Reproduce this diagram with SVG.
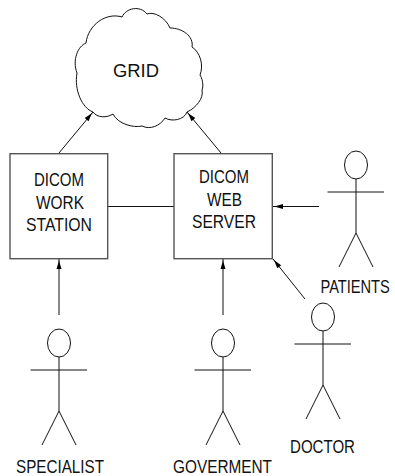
<svg xmlns="http://www.w3.org/2000/svg" width="395" height="476" viewBox="0 0 395 476">
<style>
.l{fill:none;stroke:#111;stroke-width:1}
.b{fill:#fff;stroke:#555;stroke-width:1.4}
.t{font-family:"Liberation Sans",Arial,sans-serif;font-size:19px;fill:#111}
</style>
<defs>
<marker id="a" markerUnits="userSpaceOnUse" markerWidth="14" markerHeight="8" refX="13" refY="4" orient="auto">
<path d="M13 4 L10 3.600 L3 1.500 L3 6.500 L10 4.400Z" fill="#000"/>
</marker>
<g id="actor">
<ellipse cx="0" cy="0" rx="11.5" ry="14" class="l"/>
<path class="l" d="M0 14V68M-28.500 27H28M0 68L-17 102M0 68L17 102"/>
</g>
</defs>
<g id="connectors">
<path class="l" d="M59 153L93 112" marker-end="url(#a)"/>
<path class="l" d="M221 153L187 112" marker-end="url(#a)"/>
<path class="l" d="M108 206.500H174"/>
<path class="l" d="M59 315V259" marker-end="url(#a)"/>
<path class="l" d="M223 315V259" marker-end="url(#a)"/>
<path class="l" d="M319 206.500H273" marker-end="url(#a)"/>
<path class="l" d="M305 299L273 259" marker-end="url(#a)"/>
</g>
<g id="grid">
<path class="l" fill="#fff" d="M93 112C97 118 107 118 113 114C118 124 133 128 142 126C150 130 160 126 165 118C172 122 184 120 187 112C196 108 204 98 202 90C204 85 202 78 200 75C204 65 200 52 192 47C194 36 182 28 170 28C166 18 154 11 147 14C140 5 126 8 122 17C106 12 88 25 86 43C78 46 72 60 77 73C74 90 82 108 93 112Z"/>
<text class="t" x="113" y="77" textLength="46" lengthAdjust="spacingAndGlyphs">GRID</text>
</g>
<g id="workstation">
<rect class="b" x="10" y="153.700" width="97.700" height="105"/>
<text class="t" x="34" y="186" textLength="50" lengthAdjust="spacingAndGlyphs">DICOM</text>
<text class="t" x="36" y="209" textLength="48" lengthAdjust="spacingAndGlyphs">WORK</text>
<text class="t" x="26" y="231" textLength="66" lengthAdjust="spacingAndGlyphs">STATION</text>
</g>
<g id="webserver">
<rect class="b" x="174" y="153.700" width="98.300" height="105"/>
<text class="t" x="199" y="183" textLength="50" lengthAdjust="spacingAndGlyphs">DICOM</text>
<text class="t" x="207" y="206" textLength="35" lengthAdjust="spacingAndGlyphs">WEB</text>
<text class="t" x="192" y="228" textLength="64" lengthAdjust="spacingAndGlyphs">SERVER</text>
</g>
<g id="patients">
<use href="#actor" x="356" y="165"/>
<text class="t" transform="translate(320.500 293) scale(.77 1)">PATIENTS</text>
</g>
<g id="doctor">
<use href="#actor" x="323" y="317"/>
<text class="t" x="290" y="453" textLength="65" lengthAdjust="spacingAndGlyphs">DOCTOR</text>
</g>
<g id="specialist">
<use href="#actor" x="59" y="343"/>
<text class="t" x="16" y="473" textLength="88" lengthAdjust="spacingAndGlyphs">SPECIALIST</text>
</g>
<g id="goverment">
<use href="#actor" x="223" y="343"/>
<text class="t" x="173" y="473" textLength="99" lengthAdjust="spacingAndGlyphs">GOVERMENT</text>
</g>
</svg>
